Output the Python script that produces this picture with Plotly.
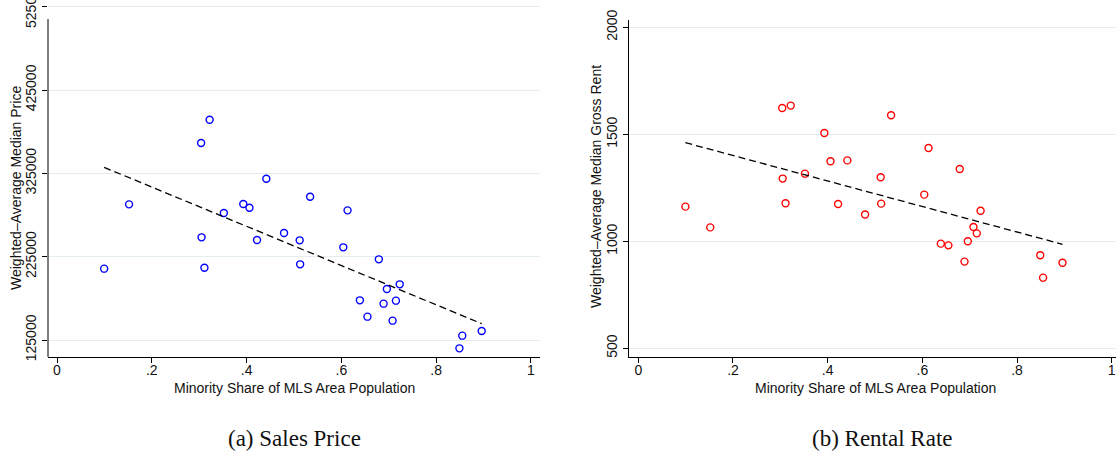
import plotly.graph_objects as go

# ---- data ----
minority_share = [0.0995, 0.152, 0.304, 0.322, 0.305, 0.311, 0.352, 0.393, 0.406, 0.4416,
                  0.422, 0.479, 0.512, 0.513, 0.534, 0.604, 0.613, 0.679, 0.723, 0.696,
                  0.639, 0.689, 0.715, 0.655, 0.708, 0.896, 0.855, 0.849]
median_price = [210600, 287800, 361400, 389400, 248200, 211800, 277400, 288200, 283800, 318600,
                245000, 253400, 244600, 215800, 297000, 236200, 280600, 221800, 191800, 186200,
                172600, 168600, 172200, 153000, 148200, 135800, 130200, 115000]
median_rent = [1162, 1065, 1623, 1634, 1293, 1178, 1316, 1506, 1374, 1378,
               1174, 1125, 1299, 1176, 1589, 1218, 1436, 1338, 1143, 1000,
               989, 905, 1037, 981, 1067, 900, 830, 935]

fit_x = [0.0995, 0.896]
fit_price = [332200, 144600]
fit_rent = [1461, 986]

x_ticks = [0, 0.2, 0.4, 0.6, 0.8, 1]
x_ticklabels = ["0", ".2", ".4", ".6", ".8", "1"]
price_ticks = [125000, 225000, 325000, 425000, 525000]
price_ticklabels = ["125000", "225000", "325000", "425000", "525000"]
rent_ticks = [500, 1000, 1500, 2000]
rent_ticklabels = ["500", "1000", "1500", "2000"]

x_title = "Minority Share of MLS Area Population"
price_title = "Weighted\u2013Average Median Price"
rent_title = "Weighted\u2013Average Median Gross Rent"
captions = ["(a) Sales Price", "(b) Rental Rate"]

# ---- layout geometry (pixels) ----
W, H = 1116, 461
def px(x):
    return x / W
def py(y):
    return (H - y) / H

SANS = "Liberation Sans, Arial, sans-serif"
SERIF = "Liberation Serif, Times New Roman, serif"
TXT = "#111111"
GRID = "#E4EEF1"

fig = go.Figure()

fig.add_trace(go.Scatter(x=minority_share, y=median_price, mode="markers",
                         marker=dict(symbol="circle-open", size=7, color="#0000FF",
                                     line=dict(width=1.4, color="#0000FF")),
                         xaxis="x", yaxis="y", showlegend=False))
fig.add_trace(go.Scatter(x=fit_x, y=fit_price, mode="lines",
                         line=dict(color="#000000", width=1.3, dash="7px,4px"),
                         xaxis="x", yaxis="y", showlegend=False))
fig.add_trace(go.Scatter(x=minority_share, y=median_rent, mode="markers",
                         marker=dict(symbol="circle-open", size=7, color="#FF0000",
                                     line=dict(width=1.4, color="#FF0000")),
                         xaxis="x2", yaxis="y2", showlegend=False))
fig.add_trace(go.Scatter(x=fit_x, y=fit_rent, mode="lines",
                         line=dict(color="#000000", width=1.3, dash="7px,4px"),
                         xaxis="x2", yaxis="y2", showlegend=False))

xcommon = dict(tickvals=x_ticks, ticktext=x_ticklabels, ticks="outside", ticklen=5,
               tickwidth=1, tickcolor="#000", showline=True, linecolor="#000", linewidth=1,
               showgrid=False, zeroline=False, automargin=False, ticklabelstandoff=-5,
               ticklabeloverflow="allow",
               tickfont=dict(family=SANS, size=14, color=TXT))
ycommon = dict(ticks="outside", ticklen=5, tickwidth=1, tickcolor="#000",
               showgrid=True, gridcolor=GRID, gridwidth=1, zeroline=False,
               automargin=False, tickangle=-90, ticklabeloverflow="allow",
               tickfont=dict(family=SANS, size=14, color=TXT))

fig.update_layout(
    width=W, height=H,
    margin=dict(l=0, r=0, t=0, b=0),
    paper_bgcolor="white", plot_bgcolor="white",
    template="none",
    xaxis=dict(domain=[px(48), px(540)], range=[-0.019, 1.019], anchor="y", **xcommon),
    yaxis=dict(domain=[py(357), 1.0], range=[104600, 533040], anchor="x",
               tickvals=price_ticks, ticktext=price_ticklabels, showline=False, **ycommon),
    xaxis2=dict(domain=[px(629), 1.0], range=[-0.0196, 1.009], anchor="y2", **xcommon),
    yaxis2=dict(domain=[py(357), py(20)], range=[459.3, 2034.1], anchor="x2",
                tickvals=rent_ticks, ticktext=rent_ticklabels,
                showline=True, linecolor="#000", linewidth=1, **ycommon),
)

# left y-axis line (starts slightly below the top tick, as in the reference)
fig.add_shape(type="line", xref="paper", yref="y", x0=px(48), x1=px(48),
              y0=104600, y1=510240, line=dict(color="#000", width=1))

ann = []
ann.append(dict(text=price_title, x=px(16), y=py(188), xref="paper", yref="paper",
                textangle=-90, showarrow=False, xanchor="center", yanchor="middle",
                font=dict(family=SANS, size=14, color=TXT)))
ann.append(dict(text=rent_title, x=px(596), y=py(187), xref="paper", yref="paper",
                textangle=-90, showarrow=False, xanchor="center", yanchor="middle",
                font=dict(family=SANS, size=14, color=TXT)))
for cx in (294, 875):
    ann.append(dict(text=x_title, x=px(cx), y=py(388), xref="paper", yref="paper",
                    showarrow=False, xanchor="center", yanchor="middle",
                    font=dict(family=SANS, size=14, color=TXT)))
for cx, cap in zip((294, 882), captions):
    ann.append(dict(text=cap, x=px(cx), y=py(438), xref="paper", yref="paper",
                    showarrow=False, xanchor="center", yanchor="middle",
                    font=dict(family=SERIF, size=23, color=TXT)))
fig.update_layout(annotations=ann)

fig.write_html("out.html")
